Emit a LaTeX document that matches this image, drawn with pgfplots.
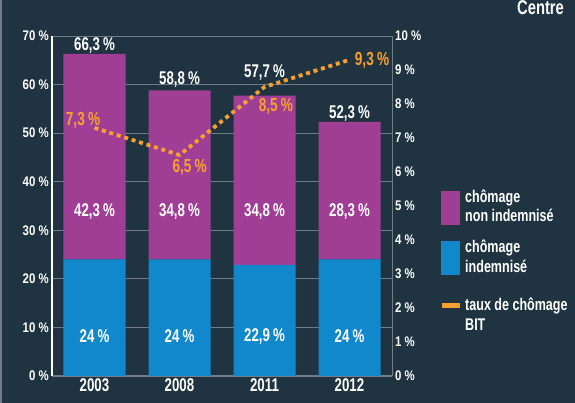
\documentclass[border=0pt]{standalone}
\usepackage{pgfplots}
\pgfplotsset{compat=1.18}
\usepackage{fontspec}
\setmainfont{Liberation Sans}[FakeStretch=0.74]
\newfontfamily\condfont{Liberation Sans}[FakeStretch=0.72]
\newfontfamily\tickfont{Liberation Sans}[FakeStretch=0.82]
\definecolor{bg}{HTML}{1F3340}
\definecolor{purplec}{HTML}{A03E96}
\definecolor{bluec}{HTML}{1188CC}
\definecolor{orangec}{HTML}{F7A030}
\definecolor{gridc}{HTML}{6E7D87}
\begin{document}
\begin{tikzpicture}[
  wl/.style={text=white, font=\condfont\bfseries\fontsize{18.5}{19}\selectfont},
  ol/.style={text=orangec, font=\condfont\bfseries\fontsize{19}{20}\selectfont},
  lg/.style={anchor=base west, inner sep=0, text=white, font=\bfseries\fontsize{17}{20}\selectfont},
]
\path[use as bounding box] (0bp,0bp) rectangle (575bp,403bp);
\fill[bg] (0bp,0bp) rectangle (575bp,403bp);
\draw[gridc, line width=1.5bp] (1bp,0bp) -- (1bp,403bp);
\node[anchor=base west, text=white, font=\bfseries\fontsize{20}{22}\selectfont, inner sep=0] at (517bp,388bp) {Centre};
\begin{axis}[
  at={(52bp,27bp)}, anchor=south west, scale only axis,
  width=340bp, height=340bp,
  xmin=-0.5, xmax=3.5, ymin=0, ymax=70,
  ybar stacked, bar width=62bp,
  axis x line=bottom, axis y line=left,
  x axis line style={-, draw=gridc, line width=1bp},
  y axis line style={-, draw=white, line width=1.2bp},
  xtick={0,1,2,3}, xticklabels={2003,2008,2011,2012},
  ytick={0,10,...,70},
  major tick length=0pt,
  ymajorgrids, grid style={draw=gridc, line width=0.9bp},
  /pgf/number format/assume math mode=true,
  yticklabel={\pgfmathprintnumber{\tick}~\%},
  yticklabel style={font=\tickfont\bfseries\fontsize{14}{15}\selectfont, text=white, inner sep=3bp},
  xticklabel style={font=\condfont\bfseries\fontsize{18.5}{19}\selectfont, text=white, inner sep=2bp},
  clip=false,
]
\addplot[fill=bluec, draw=none] coordinates {(0,24) (1,24) (2,22.9) (3,24)};
\addplot[fill=purplec, draw=none] coordinates {(0,42.3) (1,34.8) (2,34.8) (3,28.3)};
\end{axis}
\begin{axis}[
  at={(52bp,27bp)}, anchor=south west, scale only axis,
  width=340bp, height=340bp,
  xmin=-0.5, xmax=3.5, ymin=0, ymax=10,
  axis x line=none, axis y line*=right,
  y axis line style={-, draw=gridc, line width=1bp},
  ytick={0,1,...,10},
  major tick length=0pt,
  /pgf/number format/assume math mode=true,
  yticklabel={\pgfmathprintnumber{\tick}~\%},
  yticklabel style={font=\tickfont\bfseries\fontsize{14}{15}\selectfont, text=white, inner sep=3bp},
  clip=false,
]
\addplot[orangec, line width=3.8bp, dash pattern=on 4bp off 3.8bp] coordinates {(0,7.3) (1,6.5) (2,8.5) (3,9.3)};
% bar value labels (left-axis values divided by 7 for this 0-10 scale)
\node[wl] at (axis cs:0,1.171) {24\,\%};
\node[wl] at (axis cs:1,1.171) {24\,\%};
\node[wl] at (axis cs:2,1.171) {22,9\,\%};
\node[wl] at (axis cs:3,1.171) {24\,\%};
\node[wl] at (axis cs:0,4.829) {42,3\,\%};
\node[wl] at (axis cs:1,4.829) {34,8\,\%};
\node[wl] at (axis cs:2,4.829) {34,8\,\%};
\node[wl] at (axis cs:3,4.829) {28,3\,\%};
\node[wl] at (axis cs:0,9.729) {66,3\,\%};
\node[wl] at (axis cs:1,8.729) {58,8\,\%};
\node[wl] at (axis cs:2,8.914) {57,7\,\%};
\node[wl] at (axis cs:3,7.729) {52,3\,\%};
\node[ol] at (axis cs:-0.135,7.53) {7,3\,\%};
\node[ol] at (axis cs:1.12,6.15) {6,5\,\%};
\node[ol] at (axis cs:2.135,7.94) {8,5\,\%};
\node[ol] at (axis cs:3.265,9.29) {9,3\,\%};
\end{axis}
\fill[purplec] (441bp,178bp) rectangle (460bp,212bp);
\fill[bluec] (441bp,128bp) rectangle (460bp,162bp);
\draw[orangec, line width=5bp] (442bp,97bp) -- (460bp,97bp);
\node[lg] at (465bp,200bp) {chômage};
\node[lg] at (465bp,181bp) {non indemnisé};
\node[lg] at (465bp,150bp) {chômage};
\node[lg] at (465bp,130bp) {indemnisé};
\node[lg] at (465bp,92bp) {taux de chômage};
\node[lg] at (465bp,72bp) {BIT};
\end{tikzpicture}
\end{document}
